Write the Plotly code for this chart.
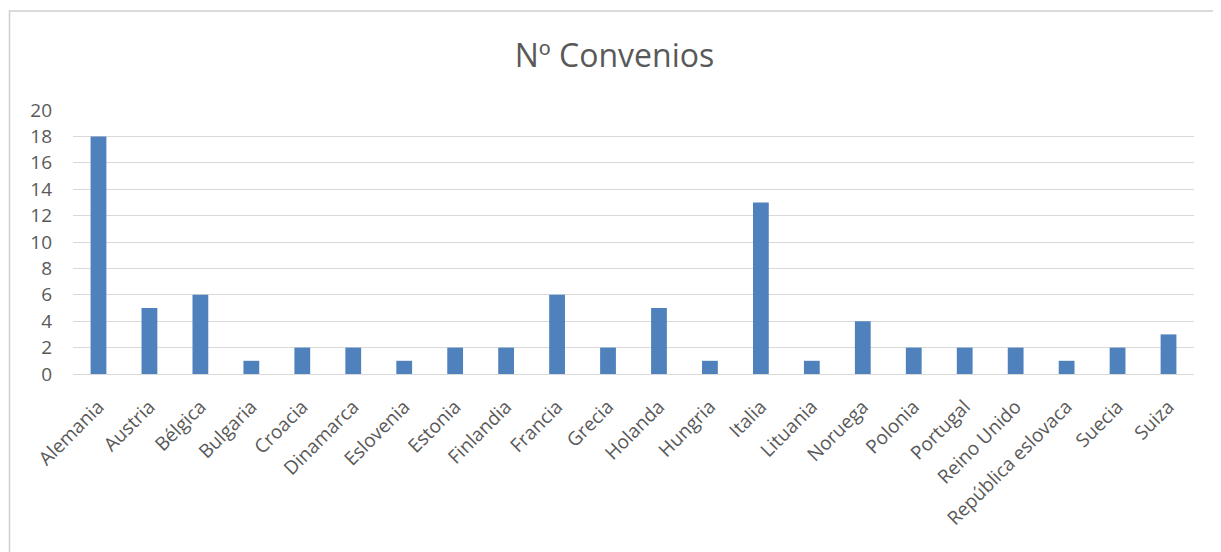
import plotly.graph_objects as go

paises = ["Alemania", "Austria", "Bélgica", "Bulgaria", "Croacia", "Dinamarca",
          "Eslovenia", "Estonia", "Finlandia", "Francia", "Grecia", "Holanda",
          "Hungria", "Italia", "Lituania", "Noruega", "Polonia", "Portugal",
          "Reino Unido", "República eslovaca", "Suecia", "Suiza"]
convenios = [18, 5, 6, 1, 2, 2, 1, 2, 2, 6, 2, 5, 1, 13, 1, 4, 2, 2, 2, 1, 2, 3]
y_ticks = list(range(0, 21, 2))

FONT = "Open Sans"
GREY = "#595959"

fig = go.Figure(go.Bar(x=paises, y=convenios, marker_color="#4F81BD",
                       marker_line_width=0, width=0.31))

fig.update_layout(
    width=1213, height=544,
    margin=dict(l=65, r=27, t=102, b=178),
    paper_bgcolor="white", plot_bgcolor="white",
    title=dict(text="Nº Convenios", x=0.5, xanchor="center", y=0.912, yanchor="middle",
               font=dict(family=FONT, size=32, color=GREY)),
    font=dict(family=FONT, color=GREY),
    showlegend=False,
    bargap=0.69,
)
fig.update_yaxes(range=[0, 20], tickvals=y_ticks, showgrid=True, gridcolor="#D9D9D9",
                 gridwidth=1.3, zeroline=False, showline=False,
                 tickfont=dict(family=FONT, size=19, color=GREY),
                 ticklabelstandoff=20)
fig.update_xaxes(tickangle=-45, showline=True, linecolor="#D9D9D9", linewidth=1.3,
                 tickfont=dict(family=FONT, size=19, color=GREY),
                 ticklabelstandoff=13)

fig.add_shape(type="rect", xref="paper", yref="paper",
              x0=(9.5 - 73) / 1121, x1=1.1, y0=-1.0, y1=(374 - 11) / 264,
              line=dict(color="#D0D0D0", width=1.6), fillcolor="rgba(0,0,0,0)",
              layer="below")

fig.write_html("out.html")
